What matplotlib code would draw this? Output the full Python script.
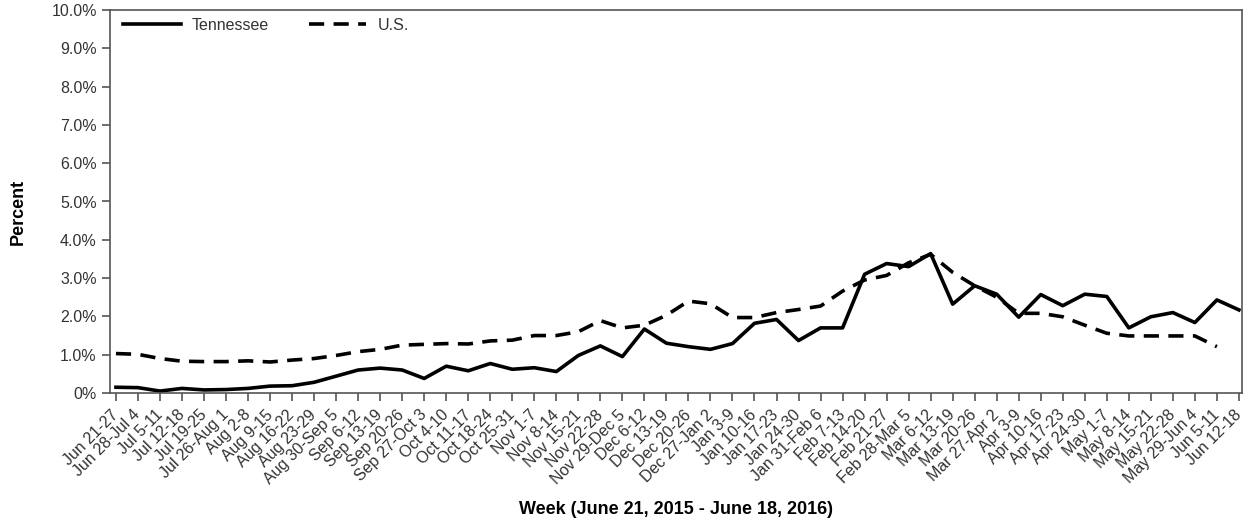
import numpy as np
import matplotlib
matplotlib.use("Agg")
import matplotlib.pyplot as plt
from matplotlib.ticker import FuncFormatter

# week labels (June 21, 2015 - June 18, 2016)
weeks = [
    "Jun 21-27", "Jun 28-Jul 4", "Jul 5-11", "Jul 12-18", "Jul 19-25",
    "Jul 26-Aug 1", "Aug 2-8", "Aug 9-15", "Aug 16-22", "Aug 23-29",
    "Aug 30-Sep 5", "Sep 6-12", "Sep 13-19", "Sep 20-26", "Sep 27-Oct 3",
    "Oct 4-10", "Oct 11-17", "Oct 18-24", "Oct 25-31", "Nov 1-7",
    "Nov 8-14", "Nov 15-21", "Nov 22-28", "Nov 29-Dec 5", "Dec 6-12",
    "Dec 13-19", "Dec 20-26", "Dec 27-Jan 2", "Jan 3-9", "Jan 10-16",
    "Jan 17-23", "Jan 24-30", "Jan 31-Feb 6", "Feb 7-13", "Feb 14-20",
    "Feb 21-27", "Feb 28-Mar 5", "Mar 6-12", "Mar 13-19", "Mar 20-26",
    "Mar 27-Apr 2", "Apr 3-9", "Apr 10-16", "Apr 17-23", "Apr 24-30",
    "May 1-7", "May 8-14", "May 15-21", "May 22-28", "May 29-Jun 4",
    "Jun 5-11", "Jun 12-18",
]

# percent of visits
tennessee = [
    0.15, 0.14, 0.05, 0.12, 0.08, 0.09, 0.12, 0.18, 0.19, 0.28,
    0.44, 0.60, 0.65, 0.60, 0.38, 0.70, 0.58, 0.77, 0.62, 0.66,
    0.56, 0.98, 1.23, 0.95, 1.67, 1.30, 1.21, 1.14, 1.29, 1.82,
    1.92, 1.37, 1.70, 1.70, 3.10, 3.38, 3.30, 3.64, 2.32, 2.80,
    2.58, 1.98, 2.57, 2.28, 2.58, 2.52, 1.70, 1.99, 2.10, 1.84,
    2.43, 2.17,
]

us = [
    1.03, 1.01, 0.90, 0.83, 0.82, 0.82, 0.84, 0.81, 0.86, 0.90,
    0.98, 1.08, 1.14, 1.25, 1.27, 1.29, 1.28, 1.36, 1.38, 1.50,
    1.50, 1.60, 1.89, 1.70, 1.77, 2.03, 2.40, 2.33, 1.97, 1.97,
    2.10, 2.18, 2.27, 2.66, 2.95, 3.07, 3.40, 3.62, 3.15, 2.80,
    2.50, 2.08, 2.08, 1.99, 1.77, 1.56, 1.49, 1.49, 1.49, 1.49,
    1.21,
]

plt.rcParams['font.family'] = ['Liberation Sans', 'DejaVu Sans']

W, H = 1245, 526
fig = plt.figure(figsize=(W / 100, H / 100), dpi=100)
ax = fig.add_axes([110 / W, 1 - 393 / H, (1242 - 110) / W, (393 - 10) / H])

x = np.arange(len(weeks))
ax.plot(x, tennessee, color='black', lw=2.6, label='Tennessee',
        solid_joinstyle='round')
ax.plot(x[:len(us)], us, color='black', lw=2.6, ls=(0, (4.2, 2.6)),
        label='U.S.')

ax.set_xlim(-0.27, 51.14)
ax.set_ylim(0, 10)
ax.set_yticks(np.arange(0, 11))
ax.yaxis.set_major_formatter(
    FuncFormatter(lambda v, p: '0%' if v == 0 else f'{v:.1f}%'))
ax.set_xticks(x)
ax.set_xticklabels(weeks, rotation=45, ha='right', va='center',
                   rotation_mode='anchor')
ax.tick_params(labelcolor='#333333', labelsize=11.5, length=6, width=1.2,
               color='#555555')
ax.tick_params(axis='x', pad=8)
for s in ax.spines.values():
    s.set_color('#555555')
    s.set_linewidth(1.2)

ax.legend(loc='center left', bbox_to_anchor=((123 - 110) / 1132, 1 - 15 / 383),
          ncol=2, frameon=False, fontsize=11.5, borderpad=0, borderaxespad=0,
          handlelength=3.6, handletextpad=0.7, columnspacing=2.5,
          labelcolor='#333333')

fig.text(676 / W, 1 - 510 / H, 'Week (June 21, 2015 - June 18, 2016)',
         ha='center', va='center', fontsize=13, fontweight='bold')
fig.text(18 / W, 1 - 212 / H, 'Percent', rotation=90, ha='center',
         va='center', fontsize=13, fontweight='bold')

fig.savefig('out.png', dpi=100)
